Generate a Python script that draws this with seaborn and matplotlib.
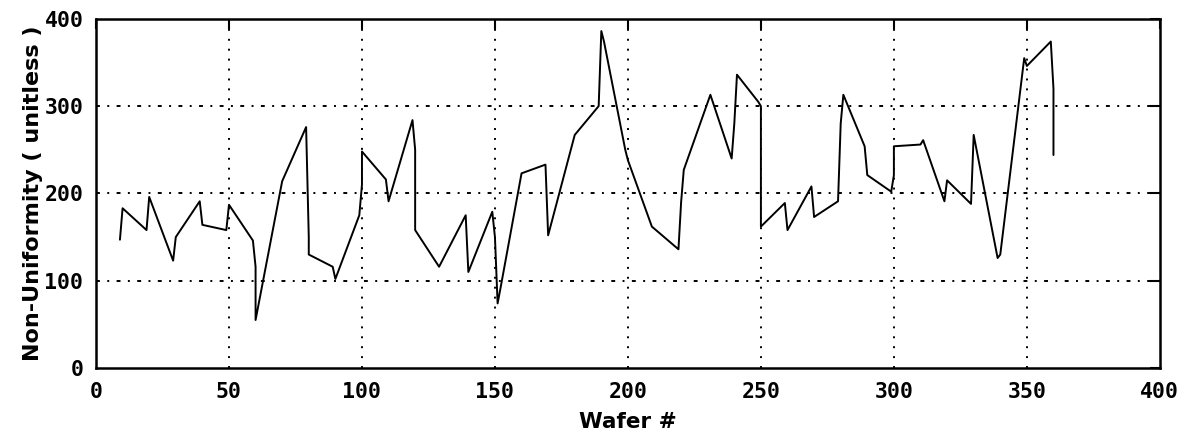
import matplotlib
matplotlib.use("Agg")
import matplotlib.pyplot as plt
import numpy as np, pandas as pd
import seaborn as sns

# values (wafer number, non-uniformity)
wafer = [9, 10, 19, 20, 29, 30, 39, 40, 49, 50, 59, 60, 60, 70, 79, 80, 80, 89, 90,
         99, 100, 100, 109, 110, 119, 120, 120, 129, 139, 140, 149, 150, 151, 152,
         160, 169, 170, 180, 189, 190, 191, 199, 200, 209, 219, 220, 221, 231, 239,
         240, 241, 249, 250, 250, 259, 260, 269, 270, 279, 280, 281, 289, 290, 299,
         300, 300, 310, 311, 319, 320, 329, 330, 339, 340, 349, 350, 359, 360, 360]
nonunif = [147, 183, 158, 196, 123, 150, 191, 164, 158, 187, 146, 116, 55, 214, 276, 150, 130, 116, 102,
           175, 210, 248, 216, 191, 284, 250, 158, 116, 175, 110, 179, 150, 74, 90,
           223, 233, 152, 267, 300, 386, 374, 250, 238, 162, 136, 190, 227, 313, 240,
           280, 336, 305, 300, 162, 189, 158, 208, 173, 191, 280, 313, 254, 221, 202,
           221, 254, 256, 261, 191, 215, 188, 267, 126, 130, 355, 346, 374, 320, 244]
xticks = [0, 50, 100, 150, 200, 250, 300, 350, 400]
yticks = [0, 100, 200, 300, 400]

sns.set_style("white")
plt.rcParams["font.family"] = ["DejaVu Sans"]
plt.rcParams["text.color"] = "black"
plt.rcParams["axes.labelcolor"] = "black"
plt.rcParams["xtick.color"] = "black"
plt.rcParams["ytick.color"] = "black"

df = pd.DataFrame({"wafer": wafer, "val": nonunif})

fig = plt.figure(figsize=(11.94, 4.42), dpi=100)
ax = fig.add_axes([0.0804, 0.1674, 0.891, 0.79])
sns.lineplot(data=df, x="wafer", y="val", sort=False, estimator=None,
             color="black", linewidth=1.4, ax=ax)

ax.set_xlim(0, 400)
ax.set_ylim(0, 400)
ax.set_xticks(xticks)
ax.set_yticks(yticks)
# matlab style grid: dotted verticals, dash-dot horizontals
for v in xticks[1:-1]:
    ax.axvline(v, color="black", linestyle=(0, (1, 4.1)), linewidth=1.4, zorder=0)
for v in yticks[1:-1]:
    ax.axhline(v, color="black", linestyle=(0, (2, 3.8, 1, 3.8)), linewidth=1.4, zorder=0)

ax.tick_params(direction="in", length=7, width=1.5, top=True, right=True, colors="black")
ax.tick_params(axis="x", pad=10)
ax.tick_params(axis="y", pad=9)
for lab in ax.get_xticklabels() + ax.get_yticklabels():
    lab.set_fontfamily("DejaVu Sans Mono")
    lab.set_fontweight("bold")
    lab.set_fontsize(15.5)
for s in ax.spines.values():
    s.set_linewidth(1.8)
    s.set_color("black")

ax.set_xlabel("Wafer #", fontsize=15.5, fontweight="bold", labelpad=7, color="black")
ax.set_ylabel("Non-Uniformity ( unitless )", fontsize=16, fontweight="bold", labelpad=1,
              color="black")

fig.savefig("out.png", dpi=100)
